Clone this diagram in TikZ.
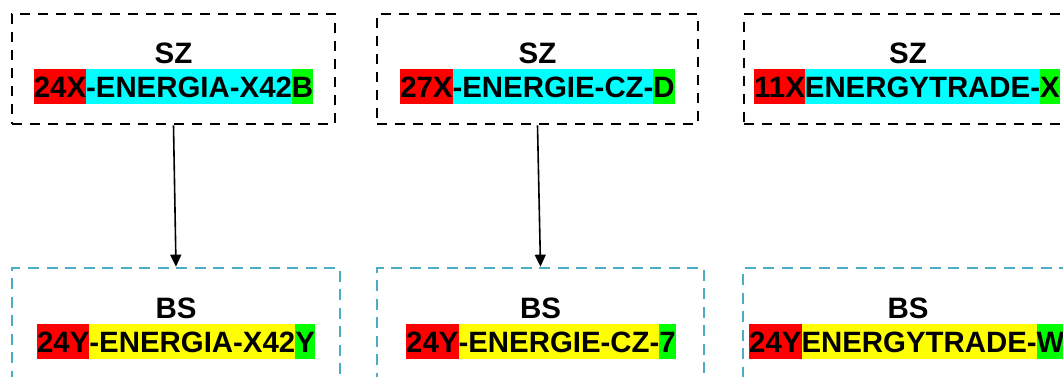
\documentclass[tikz,border=0pt]{standalone}
\usepackage{fontspec}
\setmainfont{Liberation Sans}
\usetikzlibrary{arrows.meta}
\definecolor{bsblue}{RGB}{75,172,198}
\definecolor{segred}{RGB}{255,0,0}
\definecolor{segcyan}{RGB}{0,255,255}
\definecolor{seggreen}{RGB}{0,255,0}
\definecolor{segyellow}{RGB}{255,255,0}
\newcommand\mysegm[2]{\colorbox{#1}{\rule[-7pt]{0pt}{35pt}#2}}
\begin{document}
\begin{tikzpicture}[x=1pt,y=-1pt,
  szbox/.style={draw=black,line width=2.7pt,dash pattern=on 10pt off 8pt,inner sep=0pt},
  bsbox/.style={draw=bsblue,line width=2.7pt,dash pattern=on 11pt off 7.5pt,inner sep=0pt},
  title/.style={font=\fontsize{29.5}{35}\selectfont\bfseries,inner sep=0pt,anchor=base},
  band/.style={font=\fontsize{29.4}{35}\selectfont\bfseries,inner sep=0pt,anchor=base},
  conn/.style={line width=1.6pt,-{Triangle[length=12pt,width=11pt]}}]
\setlength{\fboxsep}{0pt}
\useasboundingbox (0,0) rectangle (1063,376);
% top boxes
\node[szbox,minimum width=323pt,minimum height=110pt] (sz1) at (173.5,69) {};
\node[szbox,minimum width=321pt,minimum height=110pt] (sz2) at (537.5,69) {};
\node[szbox,minimum width=328pt,minimum height=110pt] (sz3) at (908,69) {};
% bottom boxes
\node[bsbox,minimum width=328pt,minimum height=111pt] (bs1) at (176,323.5) {};
\node[bsbox,minimum width=327pt,minimum height=111pt] (bs2) at (540.5,323.5) {};
\node[bsbox,minimum width=330pt,minimum height=111pt] (bs3) at (908,323.5) {};
% titles
\node[title] (t1) at (173.5,63) {SZ};
\node[title] (t2) at (537.5,63) {SZ};
\node[title] (t3) at (908,63) {SZ};
\node[title] (u1) at (176,318) {BS};
\node[title] (u2) at (540.5,318) {BS};
\node[title] (u3) at (908,318) {BS};
% bands
\node[band] (b1) at (173.5,97) {\mysegm{segred}{24X}\mysegm{segcyan}{-ENERGIA-X42}\mysegm{seggreen}{B}};
\node[band] (b2) at (537.5,97) {\mysegm{segred}{27X}\mysegm{segcyan}{-ENERGIE-CZ-}\mysegm{seggreen}{D}};
\node[band,anchor=base west] (b3) at (754,97) {\mysegm{segred}{11X}\mysegm{segcyan}{ENERGYTRADE-}\mysegm{seggreen}{X}};
\node[band] (c1) at (176,352) {\mysegm{segred}{24Y}\mysegm{segyellow}{-ENERGIA-X42}\mysegm{seggreen}{Y}};
\node[band] (c2) at (541,352) {\mysegm{segred}{24Y}\mysegm{segyellow}{-ENERGIE-CZ-}\mysegm{seggreen}{7}};
\node[band,anchor=base west] (c3) at (749,352) {\mysegm{segred}{24Y}\mysegm{segyellow}{ENERGYTRADE-}\mysegm{seggreen}{W}};
% connectors
\draw[conn] (sz1.south) -- (bs1.north);
\draw[conn] (sz2.south) -- (bs2.north);
\end{tikzpicture}
\end{document}
